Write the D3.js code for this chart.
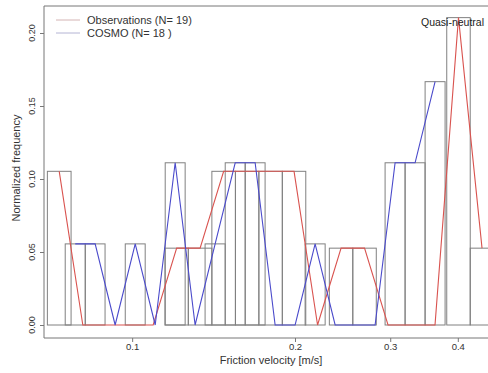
<!DOCTYPE html>
<html>
<head>
<meta charset="utf-8">
<script src="https://cdn.jsdelivr.net/npm/d3@7"></script>
<style>
  html, body { margin: 0; padding: 0; background: #fff; }
  svg { display: block; }
  text { font-family: "Liberation Sans", Arial, sans-serif; }
</style>
</head>
<body>
<div id="chart"></div>
<script>
// Friction velocity histograms, quasi-neutral conditions (log-spaced bins)
const obsEdges = [0.0697, 0.0771, 0.0852, 0.0941, 0.1040, 0.1150, 0.1270, 0.1404, 0.1552, 0.1715,
                  0.1895, 0.2094, 0.2315, 0.2558, 0.2827, 0.3124, 0.3453, 0.3816, 0.4217, 0.4663];
const obsCounts = [2, 0, 0, 0, 0, 1, 1, 2, 2, 2, 2, 0, 1, 1, 0, 0, 0, 4, 1];
const obsN = 19;

const cosmoEdges = [0.0752, 0.0819, 0.0891, 0.0971, 0.1057, 0.1151, 0.1253, 0.1364, 0.1486, 0.1618,
                    0.1761, 0.1918, 0.2088, 0.2274, 0.2476, 0.2696, 0.2935, 0.3196, 0.3480, 0.3789];
const cosmoCounts = [1, 1, 0, 1, 0, 2, 0, 1, 2, 2, 0, 0, 1, 0, 0, 0, 2, 2, 3];
const cosmoN = 18;

const xTicks = [0.1, 0.2, 0.3, 0.4];
const xTickLabels = ["0.1", "0.2", "0.3", "0.4"];
const yTicks = [0, 0.05, 0.10, 0.15, 0.20];
const yTickLabels = ["0.00", "0.05", "0.10", "0.15", "0.20"];

const seriesNames = ["Observations (N= 19)", "COSMO (N= 18 )"];
const panelTitle = "Quasi-neutral";
const xTitle = "Friction velocity [m/s]";
const yTitle = "Normalized frequency";

const W = 488, H = 373;
const svg = d3.select("#chart").append("svg").attr("width", W).attr("height", H);

const plot = { left: 44, right: 560, top: 6, bottom: 338 };
const x = d3.scaleLog().domain([0.069, 0.618]).range([45, 560]);
const y = d3.scaleLinear().domain([0, 0.2]).range([325, 33]);

const colors = { obs: "#d9534f", cosmo: "#4a4acb", bars: "#808080", axis: "#777", text: "#333" };

function bins(edges, counts, n) {
  return counts.map((c, i) => ({ lo: edges[i], hi: edges[i + 1], f: c / n }));
}
const obsBins = bins(obsEdges, obsCounts, obsN);
const cosmoBins = bins(cosmoEdges, cosmoCounts, cosmoN);

// frame
svg.append("path")
  .attr("d", `M${plot.right},${plot.top}H${plot.left}V${plot.bottom}H${plot.right}`)
  .attr("fill", "none").attr("stroke", colors.axis).attr("stroke-width", 1);

// histogram outlines
const hist = svg.append("g").attr("fill", "none").attr("stroke", colors.bars).attr("stroke-width", 1);
[obsBins, cosmoBins].forEach(bs => {
  hist.selectAll(null).data(bs).enter().append("rect")
    .attr("x", d => x(d.lo))
    .attr("y", d => y(d.f))
    .attr("width", d => x(d.hi) - x(d.lo))
    .attr("height", d => y(0) - y(d.f));
});

// frequency polygons through bin centres
const poly = d3.line().x(d => x(Math.sqrt(d.lo * d.hi))).y(d => y(d.f));
svg.append("path").datum(obsBins).attr("d", poly)
  .attr("fill", "none").attr("stroke", colors.obs).attr("stroke-width", 1.1);
svg.append("path").datum(cosmoBins).attr("d", poly)
  .attr("fill", "none").attr("stroke", colors.cosmo).attr("stroke-width", 1.1);

// x axis
const xAxis = svg.append("g").attr("transform", `translate(0,${plot.bottom})`)
  .call(d3.axisBottom(x).tickValues(xTicks).tickSize(4).tickSizeOuter(0)
    .tickFormat((d, i) => xTickLabels[i]));
xAxis.select(".domain").remove();
xAxis.selectAll("line").attr("stroke", colors.axis);
xAxis.selectAll("text").attr("font-size", 9.5).attr("fill", colors.text).attr("dy", "0.55em");

// y axis with labels parallel to the axis
const yAxis = svg.append("g").attr("transform", `translate(${plot.left},0)`)
  .call(d3.axisLeft(y).tickValues(yTicks).tickSize(4).tickFormat(""));
yAxis.select(".domain").remove();
yAxis.selectAll("line").attr("stroke", colors.axis);
svg.append("g").selectAll("text").data(yTicks).enter().append("text")
  .attr("transform", d => `translate(35,${y(d)}) rotate(-90)`)
  .attr("text-anchor", "middle").attr("font-size", 9).attr("fill", colors.text)
  .text((d, i) => yTickLabels[i]);

// axis titles
svg.append("text").attr("x", 271).attr("y", 364).attr("text-anchor", "middle")
  .attr("font-size", 11).attr("fill", colors.text).text(xTitle);
svg.append("text").attr("transform", "translate(20,168) rotate(-90)")
  .attr("text-anchor", "middle").attr("font-size", 11).attr("fill", colors.text).text(yTitle);

// legend
const legend = svg.append("g");
const legendColors = ["#d4b4b4", "#b4b4d4"];
seriesNames.forEach((name, i) => {
  const ly = 20 + i * 13;
  legend.append("line").attr("x1", 56).attr("x2", 80).attr("y1", ly).attr("y2", ly)
    .attr("stroke", legendColors[i]).attr("stroke-width", 1);
  legend.append("text").attr("x", 87).attr("y", ly + 4).attr("font-size", 11)
    .attr("fill", colors.text).text(name);
});

// panel label, kept inside the drawing area
svg.append("text").attr("x", 484).attr("y", 26).attr("text-anchor", "end")
  .attr("font-size", 10.5).attr("fill", "#222").text(panelTitle);
</script>
</body>
</html>
